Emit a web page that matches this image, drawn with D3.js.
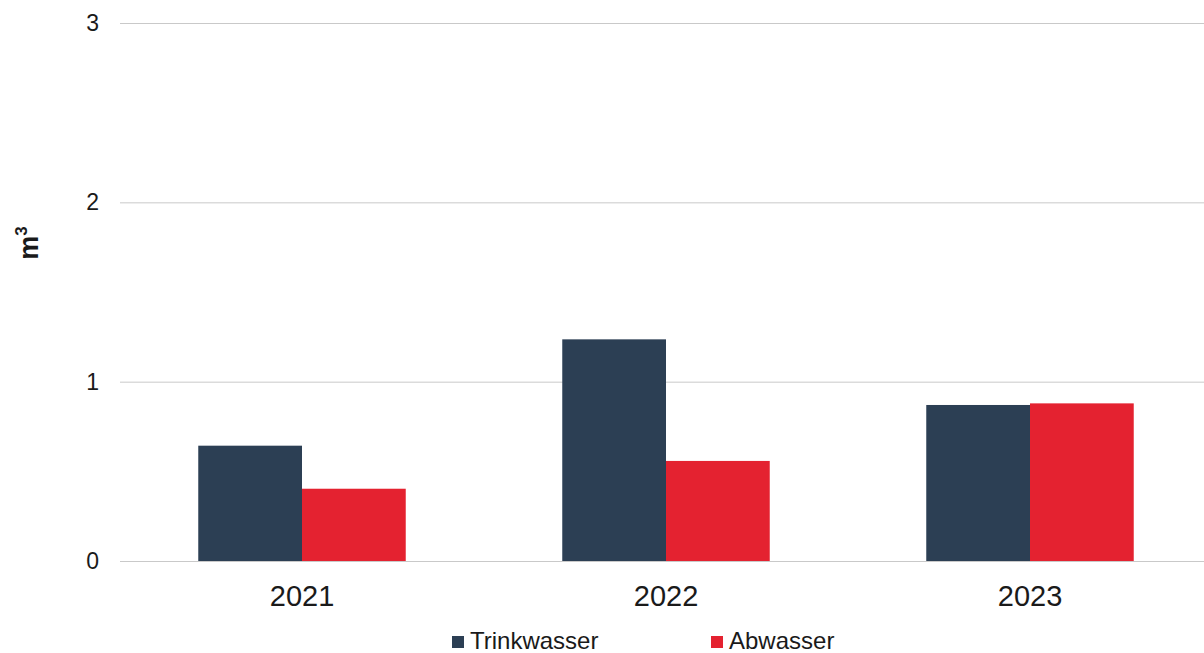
<!doctype html>
<html>
<head>
<meta charset="utf-8">
<title>Wasser</title>
<script src="https://cdn.jsdelivr.net/npm/d3@7"></script>
<style>
  html, body { margin: 0; padding: 0; background: #fff; }
  svg { display: block; font-family: "Liberation Sans", Arial, sans-serif; }
</style>
</head>
<body>
<div id="chart"></div>
<script>
// data
const years = ["2021", "2022", "2023"];
const series = ["Trinkwasser", "Abwasser"];
const trinkwasser = [0.643, 1.236, 0.870];
const abwasser = [0.403, 0.558, 0.879];
const yTicks = [0, 1, 2, 3];
const colors = ["#2c3f54", "#e42230"];

const W = 1204, H = 653;
const plotLeft = 120, plotRight = 1212, plotTop = 23, plotBottom = 561;

const svg = d3.select("#chart").append("svg")
  .attr("width", W).attr("height", H);

const y = d3.scaleLinear().domain([0, 3]).range([plotBottom, plotTop]);

const x0 = d3.scaleBand().domain(years).range([plotLeft, plotRight])
  .paddingInner(0.43).paddingOuter(0.215);
const x1 = d3.scaleBand().domain(series).range([0, x0.bandwidth()]);

// gridlines + y tick labels
const yAxis = svg.append("g")
  .attr("transform", `translate(${plotLeft},0)`)
  .call(d3.axisLeft(y).tickValues(yTicks).tickFormat(d3.format("d"))
    .tickSize(-(plotRight - plotLeft)).tickPadding(21));
yAxis.select(".domain").remove();
yAxis.selectAll(".tick line").attr("stroke", "#c9c9c9").attr("stroke-width", 1);
yAxis.selectAll(".tick text")
  .attr("fill", "#1a1a1a").style("font-size", "23px");

// bars
const rows = years.map((yr, i) => ({ year: yr, values: [trinkwasser[i], abwasser[i]] }));
const groups = svg.append("g").selectAll("g").data(rows).join("g")
  .attr("transform", d => `translate(${x0(d.year)},0)`);
groups.selectAll("rect")
  .data(d => d.values.map((v, j) => ({ key: series[j], value: v, idx: j })))
  .join("rect")
  .attr("x", d => x1(d.key))
  .attr("width", x1.bandwidth())
  .attr("y", d => y(d.value))
  .attr("height", d => y(0) - y(d.value))
  .attr("fill", d => colors[d.idx]);

// category labels
const xAxis = svg.append("g")
  .attr("transform", `translate(0,${plotBottom})`)
  .call(d3.axisBottom(x0).tickSize(0).tickPadding(24));
xAxis.select(".domain").remove();
xAxis.selectAll(".tick text")
  .attr("fill", "#1a1a1a").style("font-size", "29px");

// y axis title (m with superscript 3)
const yTitle = svg.append("text")
  .attr("transform", "translate(38,243) rotate(-90)")
  .attr("text-anchor", "middle")
  .style("font-size", "27px").style("font-weight", "bold")
  .attr("fill", "#1a1a1a");
yTitle.append("tspan").text("m");
yTitle.append("tspan").attr("dy", -11).style("font-size", "17px").text("3");

// legend
const legendX = [452, 711];
const legend = svg.append("g").selectAll("g").data(series).join("g")
  .attr("transform", (d, i) => `translate(${legendX[i]},636)`);
legend.append("rect")
  .attr("width", 12).attr("height", 12)
  .attr("fill", (d, i) => colors[i]);
legend.append("text")
  .attr("x", 18).attr("y", 13)
  .style("font-size", "24px").attr("fill", "#1a1a1a")
  .text(d => d);
</script>
</body>
</html>
